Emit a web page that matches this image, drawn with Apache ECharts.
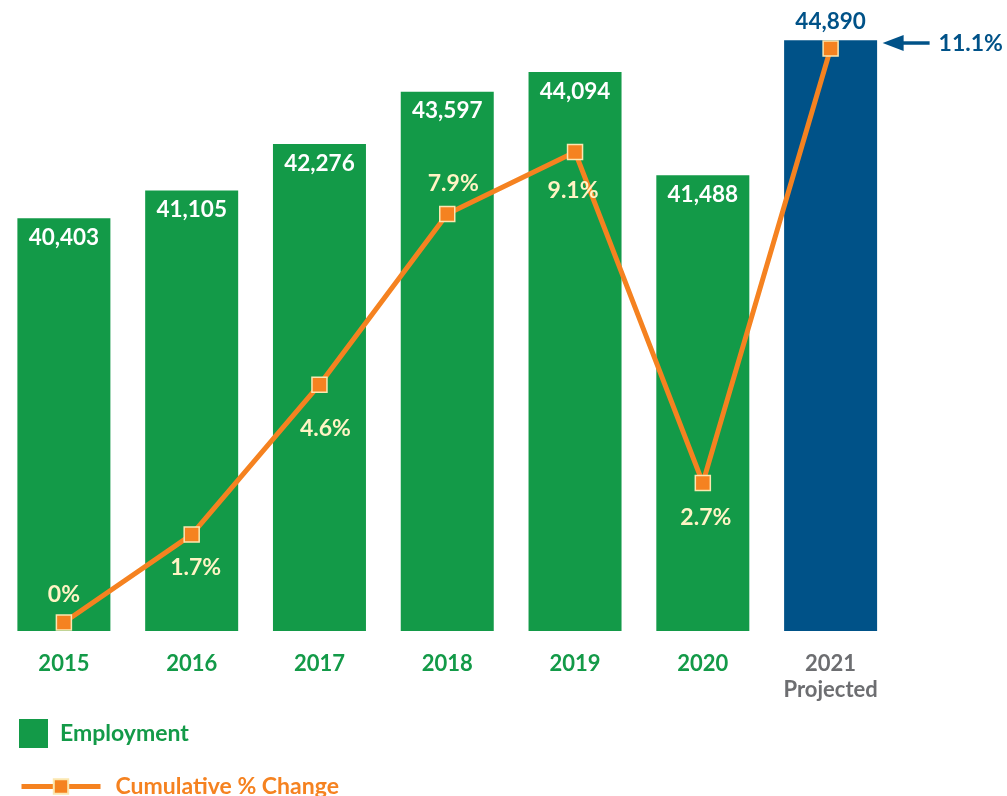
<!DOCTYPE html>
<html>
<head>
<meta charset="utf-8">
<script src="https://cdn.jsdelivr.net/npm/echarts@6/dist/echarts.min.js"></script>
<style>html,body{margin:0;padding:0;background:#fff}#c{width:1007px;height:796px}</style>
</head>
<body>
<div id="c"></div>
<script>
const categories = ['2015', '2016', '2017', '2018', '2019', '2020', '2021\nProjected'];
const employment = [40403, 41105, 42276, 43597, 44094, 41488, 44890];
const pctChange = [0, 1.7, 4.6, 7.9, 9.1, 2.7, 11.1];
const pctLabels = ['0%', '1.7%', '4.6%', '7.9%', '9.1%', '2.7%', '11.1%'];

const GREEN = '#139A48', BLUE = '#005288', ORANGE = '#F58220', CREAM = '#FFF4C4', GRAY = '#6D6E71';
const FONT = 'Lato';

// per-point label placement (style only)
const pctLabelPos = [
  {position: 'top', distance: 8, offset: [0, 0]},
  {position: 'bottom', distance: 13, offset: [4, 0]},
  {position: 'bottom', distance: 24, offset: [6, 0]},
  {position: 'top', distance: 11, offset: [6, 0]},
  {position: 'bottom', distance: 19, offset: [-2, 0]},
  {position: 'bottom', distance: 15, offset: [3, 0]},
  null
];

const chart = echarts.init(document.getElementById('c'), null, {renderer: 'canvas'});

const barData = employment.map((v, i) => {
  const last = i === employment.length - 1;
  return {
    value: v,
    itemStyle: {color: last ? BLUE : GREEN},
    label: last ? {position: 'top', distance: 7, color: BLUE} : {}
  };
});

const lineData = pctChange.map((v, i) => {
  const p = pctLabelPos[i];
  return {
    value: v,
    label: p ? {show: true, position: p.position, distance: p.distance, offset: p.offset, formatter: pctLabels[i]} : {show: false}
  };
});

const option = {
  animation: false,
  backgroundColor: '#ffffff',
  textStyle: {fontFamily: FONT},
  grid: {left: -1.5, right: 112.5, top: 36, bottom: 165},
  xAxis: {
    type: 'category',
    data: categories.map((c, i) => ({
      value: c,
      textStyle: {color: i === categories.length - 1 ? GRAY : GREEN}
    })),
    axisLine: {show: false},
    axisTick: {show: false},
    axisLabel: {fontFamily: FONT, fontWeight: 'bold', fontSize: 22, margin: 20, lineHeight: 26, interval: 0}
  },
  yAxis: [
    {type: 'value', min: 30000, max: 45000, show: false, splitLine: {show: false}},
    {type: 'value', min: -0.164, max: 11.342, show: false, splitLine: {show: false}}
  ],
  legend: [
    {
      left: 19, top: 719, orient: 'vertical', padding: 0,
      data: [{name: 'Employment', icon: 'rect'}],
      itemWidth: 29, itemHeight: 29,
      textStyle: {color: GREEN, fontFamily: FONT, fontWeight: 'bold', fontSize: 23, padding: [0, 0, 0, 7]},
      selectedMode: false
    },
    {
      left: 19, top: 775, orient: 'vertical', padding: 0,
      data: ['Cumulative % Change'],
      itemWidth: 79, itemHeight: 18,
      lineStyle: {width: 5},
      textStyle: {color: ORANGE, fontFamily: FONT, fontWeight: 'bold', fontSize: 23, padding: [0, 0, 0, 10]},
      selectedMode: false
    }
  ],
  series: [
    {
      name: 'Employment',
      type: 'bar',
      data: barData,
      barWidth: 93,
      itemStyle: {color: GREEN},
      label: {
        show: true, position: 'insideTop', distance: 8,
        color: '#ffffff', fontFamily: FONT, fontWeight: 'bold', fontSize: 22.5,
        formatter: p => p.value.toLocaleString('en-US')
      },
      z: 2
    },
    {
      name: 'Cumulative % Change',
      type: 'line',
      yAxisIndex: 1,
      data: lineData,
      symbol: 'rect',
      symbolSize: 15,
      showAllSymbol: true,
      lineStyle: {color: ORANGE, width: 5},
      itemStyle: {color: ORANGE, borderColor: '#FBE7B0', borderWidth: 1.5},
      label: {color: CREAM, fontFamily: FONT, fontWeight: 'bold', fontSize: 23},
      z: 5
    }
  ]
};

chart.setOption(option);

// Annotation arrow + label for the projected value, positioned from the library's scales
const lastIdx = pctChange.length - 1;
const pt = chart.convertToPixel({seriesIndex: 1}, [lastIdx, pctChange[lastIdx]]);
const ax = pt[0] + 52, ay = pt[1] - 5.5;
chart.setOption({
  graphic: [
    {type: 'polygon', shape: {points: [[ax, ay], [ax + 21, ay - 8], [ax + 21, ay + 8]]}, style: {fill: BLUE}, z: 10},
    {type: 'line', shape: {x1: ax + 18, y1: ay, x2: ax + 47, y2: ay}, style: {stroke: BLUE, lineWidth: 3.5}, z: 10},
    {type: 'text', x: ax + 56, y: ay + 1, style: {text: pctLabels[lastIdx], fill: BLUE, font: 'bold 23px ' + FONT, textVerticalAlign: 'middle', textAlign: 'left'}, z: 10}
  ]
});
</script>
</body>
</html>
